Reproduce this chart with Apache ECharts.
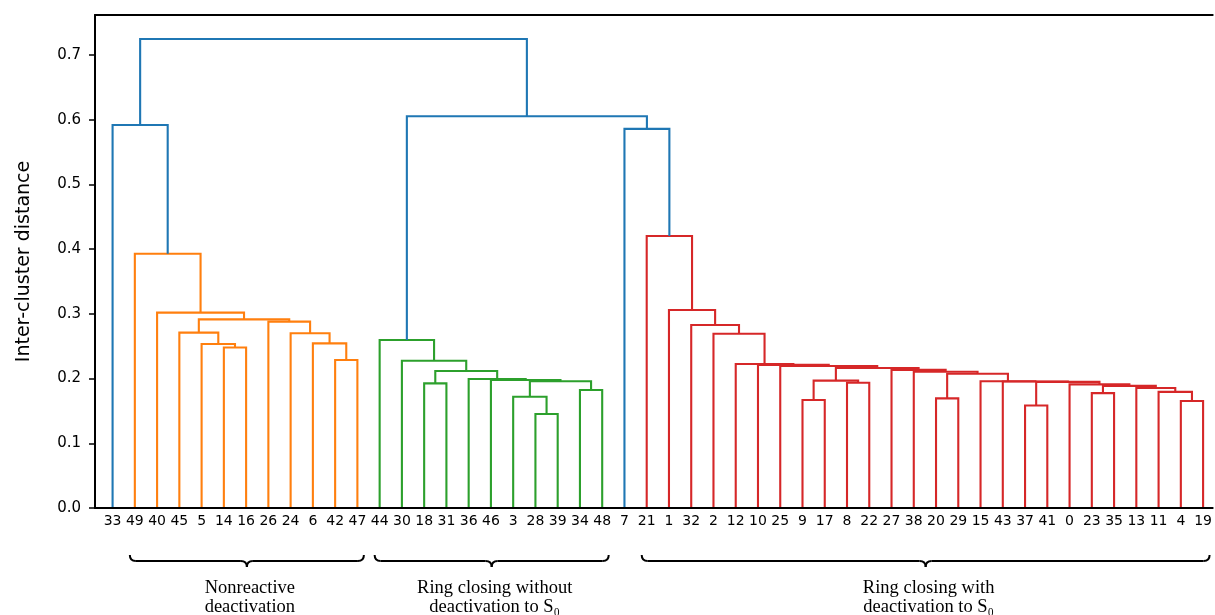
<!DOCTYPE html>
<html>
<head>
<meta charset="utf-8">
<script src="https://cdn.jsdelivr.net/npm/echarts@6/dist/echarts.min.js"></script>
<style>
html,body{margin:0;padding:0;background:#fff;}
#chart{width:1215px;height:615px;}
</style>
</head>
<body>
<div id="chart"></div>
<script>
// ---- DATA ----
const leafOrder = [33,49,40,45,5,14,16,26,24,6,42,47,44,30,18,31,36,46,3,28,39,34,48,7,21,1,32,2,12,10,25,9,17,8,22,27,38,20,29,15,43,37,41,0,23,35,13,11,4,19];

// merges: [node name, left child, right child, merge height]
const orangeMerges = [
  ['o1',14,16,0.248],['o2',5,'o1',0.2535],['o3',45,'o2',0.271],['o4',42,47,0.2287],
  ['o5',6,'o4',0.2545],['o6',24,'o5',0.270],['o7',26,'o6',0.288],['o8','o3','o7',0.2916],
  ['o9',40,'o8',0.302],['o10',49,'o9',0.393]
];
const greenMerges = [
  ['g1',28,39,0.1453],['g2',3,'g1',0.172],['g3',34,48,0.1824],['g4','g2','g3',0.1958],
  ['g5',46,'g4',0.1978],['g6',36,'g5',0.1994],['g7',18,31,0.1927],['g8','g7','g6',0.2117],
  ['g9',30,'g8',0.2277],['g10',44,'g9',0.2597]
];
const redMerges = [
  ['r1',4,19,0.1654],['r2',11,'r1',0.1795],['r3',13,'r2',0.1855],['r4',23,35,0.1775],
  ['r5','r4','r3',0.1888],['r6',0,'r5',0.1911],['r7',37,41,0.1585],['r8','r7','r6',0.195],
  ['r9',43,'r8',0.1955],['r10',15,'r9',0.196],['r11',20,29,0.1695],['r12','r11','r10',0.2075],
  ['r13',38,'r12',0.2105],['r14',27,'r13',0.2135],['r15',9,17,0.167],['r16',8,22,0.1937],
  ['r17','r15','r16',0.1968],['r18','r17','r14',0.2165],['r19',25,'r18',0.2195],['r20',10,'r19',0.2212],
  ['r21',12,'r20',0.2225],['r22',2,'r21',0.2694],['r23',32,'r22',0.2828],['r24',1,'r23',0.306],
  ['r25',21,'r24',0.4204]
];
const blueMerges = [
  ['b1',33,'o10',0.592],['b2',7,'r25',0.586],['b3','g10','b2',0.6055],['b4','b1','b3',0.725]
];

const yTicks = [0,0.1,0.2,0.3,0.4,0.5,0.6,0.7];

const groupNames = ['Nonreactive\ndeactivation','Ring closing without\ndeactivation to S\u2080','Ring closing with\ndeactivation to S\u2080'];
const groupFirstLeaf = [49,44,21];
const groupLastLeaf = [47,48,19];

const colors = {orange:'#ff7f0e', green:'#2ca02c', red:'#d62728', blue:'#1f77b4'};

// ---- build node positions ----
const nodePos = {};
leafOrder.forEach((lab,i)=>{ nodePos[lab] = {x:i, y:0}; });
function buildLinks(merges){
  return merges.map(m=>{
    const a = nodePos[m[1]], b = nodePos[m[2]];
    nodePos[m[0]] = {x:(a.x+b.x)/2, y:m[3]};
    return [a.x, a.y, b.x, b.y, m[3]];
  });
}
const orangeLinks = buildLinks(orangeMerges);
const greenLinks = buildLinks(greenMerges);
const redLinks = buildLinks(redMerges);
const blueLinks = buildLinks(blueMerges);

function linkSeries(data, color){
  return {
    type:'custom',
    z: 2,
    data: data,
    encode:{x:[0,2], y:[1,3,4]},
    silent:true,
    clip:false,
    renderItem:function(params, api){
      const p1 = api.coord([api.value(0), api.value(1)]);
      const p2 = api.coord([api.value(0), api.value(4)]);
      const p3 = api.coord([api.value(2), api.value(4)]);
      const p4 = api.coord([api.value(2), api.value(3)]);
      return {type:'polyline', shape:{points:[p1,p2,p3,p4]}, style:{stroke:color, lineWidth:2.1, fill:null}};
    }
  };
}

const xMin = -0.79, xMax = 49.43;
const chart = echarts.init(document.getElementById('chart'), null, {renderer:'canvas'});
const option = {
  animation:false,
  backgroundColor:'#fff',
  grid:{left:95, top:15, right:0, bottom:107, containLabel:false},
  xAxis:[{
    type:'value', min:xMin, max:xMax, z:5,
    splitLine:{show:false},
    axisLine:{show:true, onZero:false, lineStyle:{color:'#000', width:2}},
    axisTick:{show:false},
    axisLabel:{
      show:true, customValues: leafOrder.map((_,i)=>i), margin:6,
      formatter:function(v){ return String(leafOrder[Math.round(v)]); },
      color:'#000', fontSize:14, fontFamily:'DejaVu Sans'
    }
  },{
    type:'value', position:'top', min:xMin, max:xMax, z:5,
    splitLine:{show:false},
    axisLine:{show:true, onZero:false, lineStyle:{color:'#000', width:2}},
    axisTick:{show:false}, axisLabel:{show:false}
  }],
  yAxis:{
    type:'value', min:0, max:0.762, interval:0.1, z:5,
    name:'Inter-cluster distance', nameLocation:'middle', nameGap:61, nameMoveOverlap:false,
    nameTextStyle:{fontSize:19, color:'#000', fontFamily:'DejaVu Sans'},
    splitLine:{show:false},
    axisLine:{show:true, onZero:false, lineStyle:{color:'#000', width:2}},
    axisTick:{show:true, customValues: yTicks, length:6, lineStyle:{color:'#000', width:1.5}},
    axisLabel:{show:true, customValues: yTicks, margin:14, color:'#000', fontSize:15, fontFamily:'DejaVu Sans',
      formatter:function(v){ return v.toFixed(1); }}
  },
  series:[
    linkSeries(orangeLinks, colors.orange),
    linkSeries(greenLinks, colors.green),
    linkSeries(redLinks, colors.red),
    linkSeries(blueLinks, colors.blue)
  ]
};
chart.setOption(option);

// ---- braces and group annotations ----
const graphics = [];
const braceY = 561, curl = 6, padL = 5, padR = 6.5;
const braceStyle = {stroke:'#000', lineWidth:2, fill:null};
groupNames.forEach((name, k)=>{
  const i1 = leafOrder.indexOf(groupFirstLeaf[k]);
  const i2 = leafOrder.indexOf(groupLastLeaf[k]);
  const x1 = chart.convertToPixel({xAxisIndex:0}, i1) - padL;
  const x2 = chart.convertToPixel({xAxisIndex:0}, i2) + padR;
  const xm = (x1 + x2)/2;
  const y = braceY;
  graphics.push({type:'bezierCurve', shape:{x1:x1, y1:y-curl, cpx1:x1, cpy1:y, x2:x1+curl, y2:y}, style:braceStyle, silent:true});
  graphics.push({type:'line', shape:{x1:x1+curl, y1:y, x2:xm-curl, y2:y}, style:braceStyle, silent:true});
  graphics.push({type:'bezierCurve', shape:{x1:xm-curl, y1:y, cpx1:xm, cpy1:y, x2:xm, y2:y+curl}, style:braceStyle, silent:true});
  graphics.push({type:'bezierCurve', shape:{x1:xm, y1:y+curl, cpx1:xm, cpy1:y, x2:xm+curl, y2:y}, style:braceStyle, silent:true});
  graphics.push({type:'line', shape:{x1:xm+curl, y1:y, x2:x2-curl, y2:y}, style:braceStyle, silent:true});
  graphics.push({type:'bezierCurve', shape:{x1:x2-curl, y1:y, cpx1:x2, cpy1:y, x2:x2, y2:y-curl}, style:braceStyle, silent:true});
  graphics.push({type:'text', x:xm+3, y:578, style:{text:name, fill:'#000', fontSize:18.5, lineHeight:19.5,
    fontFamily:'Liberation Serif', align:'center', verticalAlign:'top'}, silent:true});
});
chart.setOption({graphic:graphics});
</script>
</body>
</html>
